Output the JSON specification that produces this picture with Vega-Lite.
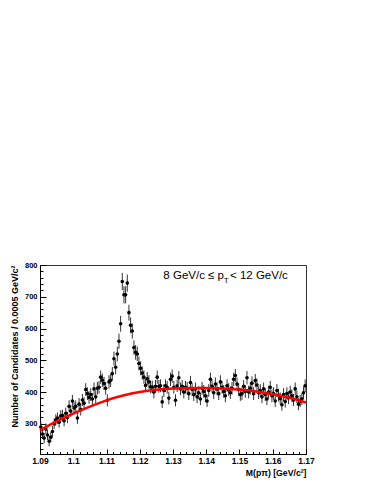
{
  "$schema": "https://vega.github.io/schema/vega-lite/v6.json",
  "width": 266,
  "height": 189,
  "autosize": {"type": "none"},
  "padding": {"left": 40, "top": 265, "right": 68, "bottom": 30},
  "background": "white",
  "config": {
    "view": {"stroke": "#333", "strokeWidth": 1},
    "font": "Liberation Sans",
    "axis": {
      "grid": false,
      "domainColor": "black",
      "tickColor": "black",
      "labelColor": "black",
      "titleColor": "black",
      "labelFont": "Liberation Sans",
      "titleFont": "Liberation Sans",
      "labelFontWeight": "bold",
      "titleFontWeight": "bold",
      "labelOverlap": false,
      "labelFlush": false
    }
  },
  "resolve": {"axis": {"x": "independent", "y": "independent"}},
  "datasets": {
    "h": [
      {"x":1.09025,"y":290,"e":17},{"x":1.09075,"y":268,"e":16},{"x":1.09125,"y":255,"e":16},{"x":1.09175,"y":284,"e":17},{"x":1.09225,"y":265,"e":16},{"x":1.09275,"y":245,"e":16},{"x":1.09325,"y":258,"e":16},{"x":1.09375,"y":276,"e":17},{"x":1.09425,"y":300,"e":17},{"x":1.09475,"y":312,"e":18},
      {"x":1.09525,"y":318,"e":18},{"x":1.09575,"y":305,"e":17},{"x":1.09625,"y":325,"e":18},{"x":1.09675,"y":326,"e":18},{"x":1.09725,"y":310,"e":18},{"x":1.09775,"y":333,"e":18},{"x":1.09825,"y":320,"e":18},{"x":1.09875,"y":355,"e":19},{"x":1.09925,"y":340,"e":18},{"x":1.09975,"y":372,"e":19},
      {"x":1.10025,"y":350,"e":19},{"x":1.10075,"y":355,"e":19},{"x":1.10125,"y":318,"e":18},{"x":1.10175,"y":362,"e":19},{"x":1.10225,"y":345,"e":19},{"x":1.10275,"y":375,"e":19},{"x":1.10325,"y":365,"e":19},{"x":1.10375,"y":408,"e":20},{"x":1.10425,"y":395,"e":20},{"x":1.10475,"y":383,"e":20},
      {"x":1.10525,"y":392,"e":20},{"x":1.10575,"y":378,"e":19},{"x":1.10625,"y":410,"e":20},{"x":1.10675,"y":385,"e":20},{"x":1.10725,"y":412,"e":20},{"x":1.10775,"y":415,"e":20},{"x":1.10825,"y":447,"e":21},{"x":1.10875,"y":437,"e":21},{"x":1.10925,"y":427,"e":21},{"x":1.10975,"y":412,"e":20},
      {"x":1.11025,"y":374,"e":19},{"x":1.11075,"y":432,"e":21},{"x":1.11125,"y":437,"e":21},{"x":1.11175,"y":458,"e":21},{"x":1.11225,"y":505,"e":22},{"x":1.11275,"y":478,"e":22},{"x":1.11325,"y":520,"e":23},{"x":1.11375,"y":560,"e":24},{"x":1.11425,"y":615,"e":25},{"x":1.11475,"y":748,"e":27},
      {"x":1.11525,"y":706,"e":27},{"x":1.11575,"y":706,"e":27},{"x":1.11625,"y":743,"e":27},{"x":1.11675,"y":650,"e":25},{"x":1.11725,"y":610,"e":25},{"x":1.11775,"y":592,"e":24},{"x":1.11825,"y":540,"e":23},{"x":1.11875,"y":525,"e":23},{"x":1.11925,"y":520,"e":23},{"x":1.11975,"y":490,"e":22},
      {"x":1.12025,"y":475,"e":22},{"x":1.12075,"y":460,"e":21},{"x":1.12125,"y":447,"e":21},{"x":1.12175,"y":421,"e":21},{"x":1.12225,"y":442,"e":21},{"x":1.12275,"y":432,"e":21},{"x":1.12325,"y":416,"e":20},{"x":1.12375,"y":416,"e":20},{"x":1.12425,"y":400,"e":20},{"x":1.12475,"y":418,"e":20},
      {"x":1.12525,"y":447,"e":21},{"x":1.12575,"y":418,"e":20},{"x":1.12625,"y":420,"e":20},{"x":1.12675,"y":369,"e":19},{"x":1.12725,"y":405,"e":20},{"x":1.12775,"y":420,"e":20},{"x":1.12825,"y":415,"e":20},{"x":1.12875,"y":381,"e":20},{"x":1.12925,"y":440,"e":21},{"x":1.12975,"y":450,"e":21},
      {"x":1.13025,"y":415,"e":20},{"x":1.13075,"y":374,"e":19},{"x":1.13125,"y":420,"e":20},{"x":1.13175,"y":445,"e":21},{"x":1.13225,"y":410,"e":20},{"x":1.13275,"y":418,"e":20},{"x":1.13325,"y":400,"e":20},{"x":1.13375,"y":415,"e":20},{"x":1.13425,"y":412,"e":20},{"x":1.13475,"y":395,"e":20},
      {"x":1.13525,"y":430,"e":21},{"x":1.13575,"y":408,"e":20},{"x":1.13625,"y":392,"e":20},{"x":1.13675,"y":410,"e":20},{"x":1.13725,"y":385,"e":20},{"x":1.13775,"y":398,"e":20},{"x":1.13825,"y":378,"e":19},{"x":1.13875,"y":412,"e":20},{"x":1.13925,"y":402,"e":20},{"x":1.13975,"y":388,"e":20},
      {"x":1.14025,"y":372,"e":19},{"x":1.14075,"y":405,"e":20},{"x":1.14125,"y":440,"e":21},{"x":1.14175,"y":418,"e":20},{"x":1.14225,"y":398,"e":20},{"x":1.14275,"y":425,"e":21},{"x":1.14325,"y":410,"e":20},{"x":1.14375,"y":395,"e":20},{"x":1.14425,"y":432,"e":21},{"x":1.14475,"y":415,"e":20},
      {"x":1.14525,"y":402,"e":20},{"x":1.14575,"y":388,"e":20},{"x":1.14625,"y":420,"e":20},{"x":1.14675,"y":408,"e":20},{"x":1.14725,"y":398,"e":20},{"x":1.14775,"y":412,"e":20},{"x":1.14825,"y":440,"e":21},{"x":1.14875,"y":452,"e":21},{"x":1.14925,"y":425,"e":21},{"x":1.14975,"y":408,"e":20},
      {"x":1.15025,"y":392,"e":20},{"x":1.15075,"y":395,"e":20},{"x":1.15125,"y":418,"e":20},{"x":1.15175,"y":402,"e":20},{"x":1.15225,"y":445,"e":21},{"x":1.15275,"y":400,"e":20},{"x":1.15325,"y":412,"e":20},{"x":1.15375,"y":428,"e":21},{"x":1.15425,"y":395,"e":20},{"x":1.15475,"y":436,"e":21},
      {"x":1.15525,"y":422,"e":21},{"x":1.15575,"y":398,"e":20},{"x":1.15625,"y":405,"e":20},{"x":1.15675,"y":385,"e":20},{"x":1.15725,"y":410,"e":20},{"x":1.15775,"y":392,"e":20},{"x":1.15825,"y":378,"e":19},{"x":1.15875,"y":400,"e":20},{"x":1.15925,"y":415,"e":20},{"x":1.15975,"y":388,"e":20},
      {"x":1.16025,"y":395,"e":20},{"x":1.16075,"y":372,"e":19},{"x":1.16125,"y":405,"e":20},{"x":1.16175,"y":390,"e":20},{"x":1.16225,"y":380,"e":19},{"x":1.16275,"y":360,"e":19},{"x":1.16325,"y":392,"e":20},{"x":1.16375,"y":370,"e":19},{"x":1.16425,"y":395,"e":20},{"x":1.16475,"y":382,"e":20},
      {"x":1.16525,"y":400,"e":20},{"x":1.16575,"y":388,"e":20},{"x":1.16625,"y":375,"e":19},{"x":1.16675,"y":410,"e":20},{"x":1.16725,"y":385,"e":20},{"x":1.16775,"y":362,"e":19},{"x":1.16825,"y":372,"e":19},{"x":1.16875,"y":378,"e":19},{"x":1.16925,"y":398,"e":20},{"x":1.16975,"y":420,"e":20}
    ],
    "bg": [
      {"x":1.09,"y":280},{"x":1.095,"y":308},{"x":1.10,"y":332},{"x":1.105,"y":354},{"x":1.11,"y":374},{"x":1.115,"y":389},{"x":1.12,"y":400},{"x":1.125,"y":407},{"x":1.13,"y":411},{"x":1.135,"y":413},{"x":1.14,"y":413},{"x":1.145,"y":411},{"x":1.15,"y":408},{"x":1.155,"y":402},{"x":1.16,"y":393},{"x":1.165,"y":382},{"x":1.17,"y":367}
    ],
    "lbl": [
      {"part":"main","t":"8 GeV/c ≤ p","x":1.1271,"y":755},
      {"part":"main","t":"< 12 GeV/c","x":1.14714,"y":755},
      {"part":"sub","t":"T","x":1.14534,"y":742}
    ]
  },
  "layer": [
    {
      "data": {"name": "h"},
      "mark": {"type": "errorbar", "color": "#333", "thickness": 1},
      "encoding": {
        "x": {
          "field": "x", "type": "quantitative",
          "scale": {"domain": [1.09, 1.17], "nice": false, "zero": false},
          "axis": {
            "orient": "bottom",
            "values": [1.09,1.1,1.11,1.12,1.13,1.14,1.15,1.16,1.17],
            "labelExpr": "'' + datum.value",
            "tickSize": -5,
            "labelOverlap": false,
            "labelFontSize": 8.5,
            "labelPadding": 7,
            "title": "M(pπ) [GeV/c²]",
            "titleFontSize": 8.7,
            "titleAnchor": "end",
            "titlePadding": 4
          }
        },
        "y": {
          "field": "y", "type": "quantitative",
          "scale": {"domain": [205, 800], "nice": false, "zero": false},
          "axis": {
            "orient": "left",
            "values": [300,400,500,600,700,800],
            "tickSize": -6,
            "labelOverlap": false,
            "labelFontSize": 7.5,
            "labelPadding": 9,
            "title": "Number of Candidates / 0.0005 GeV/c²",
            "titleFontSize": 9,
            "titleAnchor": "end",
            "titlePadding": 5
          }
        },
        "yError": {"field": "e"}
      }
    },
    {
      "data": {"name": "h"},
      "mark": {"type": "point", "filled": true, "color": "black", "size": 13, "opacity": 1},
      "encoding": {
        "x": {"field": "x", "type": "quantitative",
          "axis": {
            "orient": "bottom",
            "values": [1.092,1.094,1.096,1.098,1.102,1.104,1.106,1.108,1.112,1.114,1.116,1.118,1.122,1.124,1.126,1.128,1.132,1.134,1.136,1.138,1.142,1.144,1.146,1.148,1.152,1.154,1.156,1.158,1.162,1.164,1.166,1.168],
            "tickSize": -2.5, "labels": false, "domain": false, "title": null
          }
        },
        "y": {"field": "y", "type": "quantitative",
          "axis": {
            "orient": "left",
            "values": [220,240,260,280,320,340,360,380,420,440,460,480,520,540,560,580,620,640,660,680,720,740,760,780],
            "tickSize": -3, "labels": false, "domain": false, "title": null
          }
        }
      }
    },
    {
      "data": {"name": "bg"},
      "mark": {"type": "line", "color": "#ff0000", "strokeWidth": 2.5, "interpolate": "monotone"},
      "encoding": {
        "x": {"field": "x", "type": "quantitative", "axis": null},
        "y": {"field": "y", "type": "quantitative", "axis": null}
      }
    },
    {
      "data": {"name": "lbl"},
      "transform": [{"filter": "datum.part == 'main'"}],
      "mark": {"type": "text", "align": "left", "baseline": "alphabetic", "fontSize": 11.5, "font": "Liberation Sans", "color": "black"},
      "encoding": {
        "x": {"field": "x", "type": "quantitative", "axis": null},
        "y": {"field": "y", "type": "quantitative", "axis": null},
        "text": {"field": "t"}
      }
    },
    {
      "data": {"name": "lbl"},
      "transform": [{"filter": "datum.part == 'sub'"}],
      "mark": {"type": "text", "align": "left", "baseline": "alphabetic", "fontSize": 7.5, "font": "Liberation Sans", "color": "black"},
      "encoding": {
        "x": {"field": "x", "type": "quantitative", "axis": null},
        "y": {"field": "y", "type": "quantitative", "axis": null},
        "text": {"field": "t"}
      }
    }
  ]
}
